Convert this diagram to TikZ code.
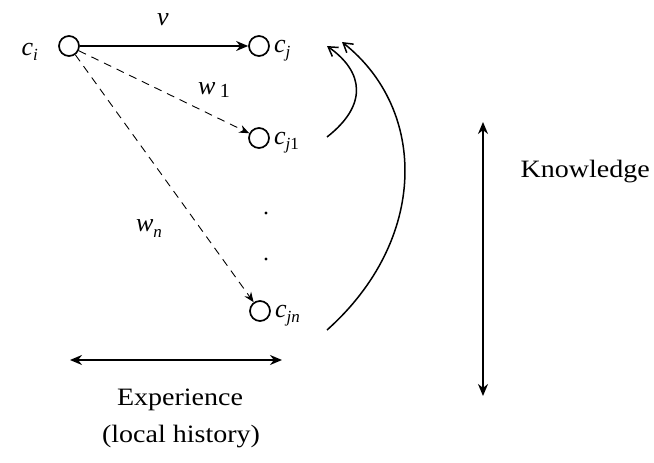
\documentclass[tikz,border=0pt]{standalone}
\usepackage{fontspec}
\setmainfont{Liberation Serif}
\usetikzlibrary{arrows.meta}
\newcommand{\cvar}[1]{{\itshape c}\raisebox{-5pt}{\fontsize{17}{17}\selectfont\itshape #1}}
\newcommand{\wide}[1]{\scalebox{1.12}[1]{#1}}
\begin{document}
\begin{tikzpicture}[x=1pt,y=-1pt,
  state/.style={circle,draw,line width=1.7pt,minimum size=20pt,inner sep=0pt},
  lbl/.style={font=\fontsize{26}{28}\selectfont,inner sep=0pt},
  txt/.style={font=\fontsize{25}{27}\selectfont,inner sep=0pt},
  solidarr/.style={line width=1.6pt,-{Stealth[length=12pt,width=10pt]}},
  dasharr/.style={line width=0.9pt,dash pattern=on 8pt off 6pt,-{Stealth[length=10pt,width=8pt]}},
  curvearr/.style={line width=1.5pt,-{Straight Barb[length=9pt,width=11pt]}},
  dblarr/.style={line width=1.7pt,{Stealth[length=12pt,width=10pt]}-{Stealth[length=12pt,width=10pt]}}]
\useasboundingbox (0,0) rectangle (654,463);
\node[state] (ci) at (69,46) {};
\node[state] (cj) at (259,46) {};
\node[state] (cj1) at (259,138) {};
\node[state] (cjn) at (260,311) {};
\node[lbl,anchor=east] (lci) at (38,52) {\cvar{i}};
\node[lbl,anchor=west] (lcj) at (274,51) {\cvar{j}};
\node[lbl,anchor=west] (lcj1) at (274,143) {{\itshape c}\raisebox{-5pt}{\fontsize{17}{17}\selectfont\itshape j\upshape 1}};
\node[lbl,anchor=west] (lcjn) at (275,316) {\cvar{jn}};
\node[lbl] (v) at (163,20) {\itshape v};
\node[lbl] (w1) at (214,90) {{\itshape w}\,\raisebox{-3pt}{\fontsize{20}{20}\selectfont 1}};
\node[lbl] (wn) at (149,229) {{\itshape w}\raisebox{-6pt}{\fontsize{17}{17}\selectfont\itshape n}};
\fill (266,213) circle (1.7pt);
\fill (266,259) circle (1.7pt);
\draw[solidarr] (ci) -- (cj);
\draw[dasharr] (ci) -- (cj1);
\draw[dasharr] (ci) -- (cjn);
\coordinate (t1) at (327,46);
\coordinate (t2) at (342,42);
\coordinate (s1) at (327,137);
\coordinate (sn) at (327,330);
\draw[curvearr] (s1) .. controls (368,105) and (364,72) .. (t1);
\draw[curvearr] (sn) .. controls (428,240) and (428,110) .. (t2);
\node[txt,anchor=east] (know) at (650,172) {\wide{Knowledge}};
\coordinate (ktop) at (483,122);
\coordinate (kbot) at (483,396);
\draw[dblarr] (ktop) -- (kbot);
\coordinate (eleft) at (70,360);
\coordinate (eright) at (282,360);
\draw[dblarr] (eleft) -- (eright);
\node[txt] (exp) at (180,400) {\wide{Experience}};
\node[txt] (hist) at (181,437) {\wide{(local history)}};
\end{tikzpicture}
\end{document}
